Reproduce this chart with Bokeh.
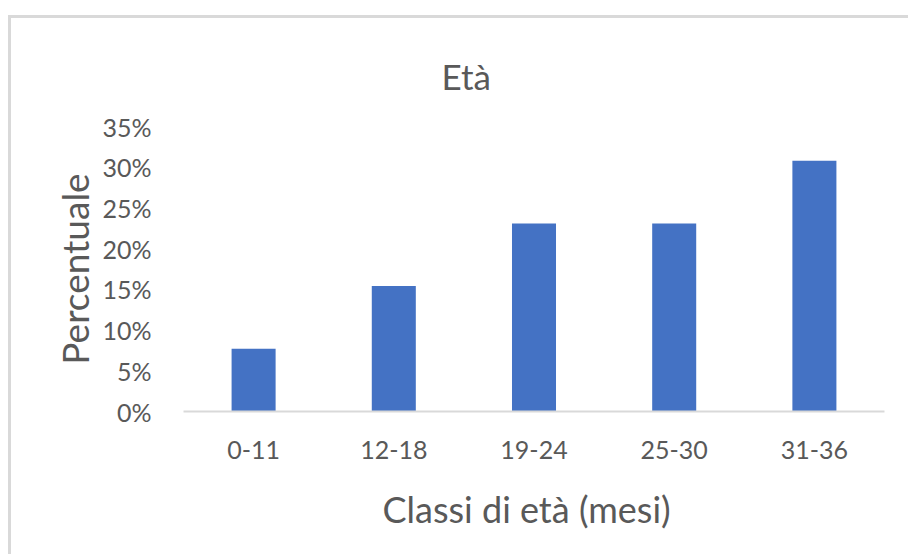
from bokeh.plotting import figure
from bokeh.models import Range1d, FixedTicker, NumeralTickFormatter, ColumnDataSource, Title
from bokeh.embed import file_html
from bokeh.resources import INLINE

categories = ["0-11", "12-18", "19-24", "25-30", "31-36"]
percentages = [0.077, 0.154, 0.231, 0.231, 0.308]
y_ticks = [0.0, 0.05, 0.10, 0.15, 0.20, 0.25, 0.30, 0.35]

title_text = "Età"
x_title = "Classi di età (mesi)"
y_title = "Percentuale"

FONT = "Lato"
GRAY = "#595959"
BAR = "#4472C4"

source = ColumnDataSource(data=dict(cat=categories, val=percentages))

p = figure(
    x_range=categories,
    y_range=Range1d(0, 0.35),
    width=897, height=536,
    output_backend="svg",
    toolbar_location=None,
    min_border_left=172, min_border_right=27,
    min_border_top=108, min_border_bottom=146,
)
p.styles = {"border-left": "3px solid #d9d9d9", "border-top": "3px solid #d9d9d9",
            "margin-left": "8px", "margin-top": "15px", "box-sizing": "content-box"}
p.x_range.range_padding = 0
p.vbar(x="cat", top="val", width=0.314, source=source, color=BAR, line_color=None)

p.outline_line_color = None
p.xgrid.grid_line_color = None
p.ygrid.grid_line_color = None
p.background_fill_color = "white"
p.border_fill_color = "white"

p.title.text = title_text
p.title.align = "left"
p.title.offset = 258
p.title.text_font = FONT
p.title.text_font_size = "35px"
p.title.text_font_style = "normal"
p.title.text_color = GRAY
p.title.vertical_align = "top"
p.title.standoff = 56

p.yaxis.ticker = FixedTicker(ticks=y_ticks)
p.yaxis.formatter = NumeralTickFormatter(format="0%")
p.yaxis.axis_line_color = None
p.yaxis.major_tick_line_color = None
p.yaxis.minor_tick_line_color = None
p.yaxis.major_label_standoff = 26
p.yaxis.major_label_text_font = FONT
p.yaxis.major_label_text_font_size = "25px"
p.yaxis.major_label_text_color = GRAY
p.yaxis.axis_label = y_title
p.yaxis.axis_label_text_font = FONT
p.yaxis.axis_label_text_font_size = "37px"
p.yaxis.axis_label_text_font_style = "normal"
p.yaxis.axis_label_text_color = GRAY
p.yaxis.axis_label_standoff = 2

p.xaxis.axis_line_color = "#d9d9d9"
p.xaxis.axis_line_width = 2
p.xaxis.major_tick_line_color = None
p.xaxis.minor_tick_line_color = None
p.xaxis.major_label_standoff = 23
p.xaxis.major_label_text_font = FONT
p.xaxis.major_label_text_font_size = "25px"
p.xaxis.major_label_text_color = GRAY

x_label = Title(text=x_title, align="left", offset=199, text_font=FONT,
                text_font_size="36px", text_font_style="normal", text_color=GRAY,
                standoff=47)
p.add_layout(x_label, "below")

open("out.html", "w").write(file_html(p, INLINE))
